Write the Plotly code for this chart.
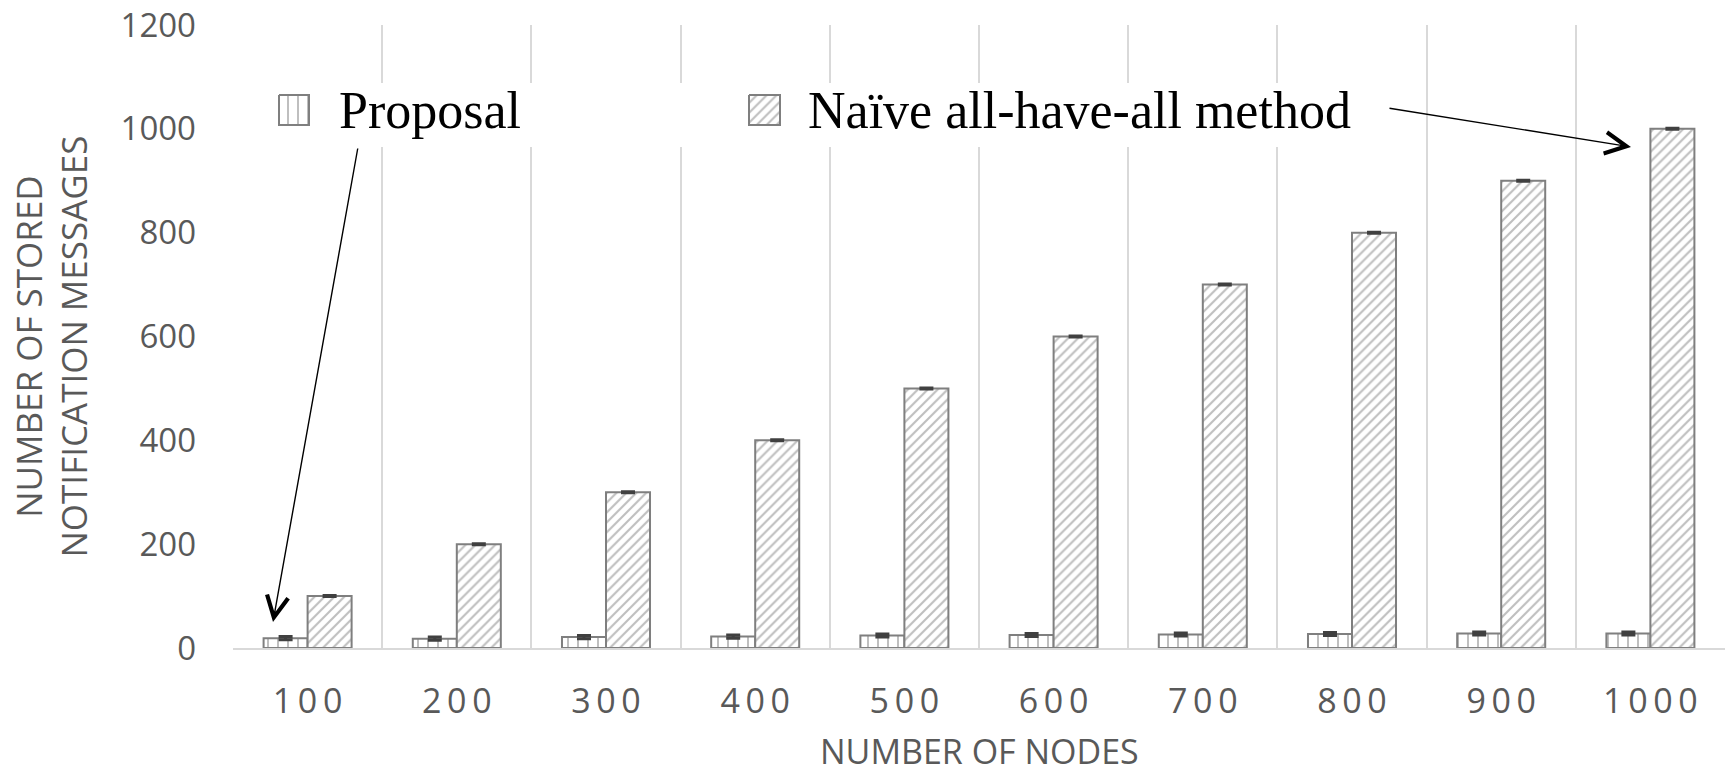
import plotly.graph_objects as go

# ---- data ----
nodes = ["100", "200", "300", "400", "500", "600", "700", "800", "900", "1000"]
proposal = [19, 18, 21, 22, 24, 25, 26, 27, 28, 28]
proposal_err = [3, 3, 3, 3, 3, 3, 3, 3, 3, 3]
naive = [100, 200, 300, 400, 500, 600, 700, 800, 900, 1000]
naive_err = [1, 1, 1, 1, 1, 1, 1, 1, 1, 1]
series_names = ["Proposal", "Naïve all-have-all method"]
y_ticks = [0, 200, 400, 600, 800, 1000, 1200]
x_title = "NUMBER OF NODES"
y_title = "NUMBER OF STORED<br>NOTIFICATION MESSAGES"

tick_text = ["\u2009".join(n) for n in nodes]

# geometry (page pixels; body margin removed below)
W, H = 1729, 775
PL, PR, PT, PB = 233, 1725, 25, 648      # plot area
L, T, R, B = PL, PT, W - PR, H - PB
YMAX = 1200

GRAY = "#7f7f7f"
TXT = "#595959"
GRID = "#d9d9d9"

def px_to_cat(px):
    return (px - PL) / ((PR - PL) / len(nodes)) - 0.5

def px_to_val(py):
    return (PB - py) / (PB - PT) * YMAX

fig = go.Figure()
fig.add_trace(go.Bar(
    x=nodes, y=proposal, name=series_names[0], showlegend=False,
    marker=dict(color="white", line=dict(color=GRAY, width=2),
                pattern=dict(shape="|", fgcolor=GRAY, bgcolor="white", size=10, solidity=0.2)),
    error_y=dict(type="data", array=proposal_err, color="#404040", thickness=3, width=7),
))
fig.add_trace(go.Bar(
    x=nodes, y=naive, name=series_names[1], showlegend=False,
    marker=dict(color="white", line=dict(color=GRAY, width=2),
                pattern=dict(shape="/", fgcolor=GRAY, bgcolor="white", size=7, solidity=0.3)),
    error_y=dict(type="data", array=naive_err, color="#404040", thickness=3, width=7),
))

# legend swatches on a pixel-mapped overlay axis
def swatch(x0, y0, w, h, shape, size, sol):
    fig.add_trace(go.Scatter(
        x=[x0, x0 + w, x0 + w, x0, x0], y=[y0, y0, y0 + h, y0 + h, y0],
        xaxis="x2", yaxis="y2", mode="lines", fill="toself",
        fillcolor="white", line=dict(color=GRAY, width=2),
        fillpattern=dict(shape=shape, fgcolor=GRAY, bgcolor="white", size=size, solidity=sol),
        showlegend=False, hoverinfo="skip"))

swatch(279, 95, 30, 30, "|", 10, 0.2)
swatch(749, 95, 31, 30, "/", 7, 0.3)

fig.update_layout(
    width=W, height=H,
    margin=dict(l=L, r=R, t=T, b=B, pad=0, autoexpand=False),
    paper_bgcolor="white", plot_bgcolor="white",
    font=dict(family="Open Sans", color=TXT, size=33),
    barmode="group", bargap=0.41, bargroupgap=0,
    xaxis=dict(type="category", tickson="boundaries", showgrid=True,
               gridcolor=GRID, gridwidth=2, showline=True, linecolor=GRID,
               linewidth=2, ticks="", tickvals=nodes, ticktext=tick_text,
               tickfont=dict(size=34, color=TXT), ticklabelstandoff=22,
               zeroline=False, range=[-0.5, len(nodes) - 0.5], automargin=False),
    yaxis=dict(range=[0, YMAX], tickvals=y_ticks, showgrid=False, showline=False,
               zeroline=False, ticks="", tickfont=dict(size=33, color=TXT),
               ticklabelstandoff=36, ticklabeloverflow="allow", automargin=False),
    xaxis2=dict(overlaying="x", range=[PL, PR], visible=False, fixedrange=True),
    yaxis2=dict(overlaying="y", range=[PB, PT], visible=False, fixedrange=True),
    showlegend=False,
)

# white band behind legend (covers gridlines)
fig.add_shape(type="rect", xref="x", yref="y",
              x0=px_to_cat(262), x1=px_to_cat(1380),
              y0=px_to_val(147), y1=px_to_val(83),
              fillcolor="white", line=dict(width=0), layer="between")

serif = dict(family="Liberation Serif", size=52, color="black")
fig.add_annotation(xref="x2", yref="y2", x=337, y=110, text=series_names[0],
                   showarrow=False, xanchor="left", yanchor="middle", font=serif)
fig.add_annotation(xref="x2", yref="y2", x=806, y=110, text=series_names[1],
                   showarrow=False, xanchor="left", yanchor="middle", font=serif)

# arrows
fig.add_annotation(xref="x2", yref="y2", axref="x2", ayref="y2",
                   x=273, y=622, ax=358, ay=147, text="", showarrow=True,
                   arrowhead=5, arrowsize=3, arrowwidth=1.4, arrowcolor="black")
fig.add_annotation(xref="x2", yref="y2", axref="x2", ayref="y2",
                   x=1631, y=147, ax=1388, ay=108, text="", showarrow=True,
                   arrowhead=5, arrowsize=3, arrowwidth=1.4, arrowcolor="black")

# axis titles
fig.add_annotation(xref="paper", yref="paper", x=0.5, y=0, yshift=-(751 - PB),
                   text=x_title, showarrow=False, xanchor="center", yanchor="middle",
                   font=dict(size=34, color=TXT))
fig.add_annotation(xref="paper", yref="paper", x=0, y=0.5, xshift=51 - PL, yshift=-10,
                   text=y_title, showarrow=False, xanchor="center", yanchor="middle",
                   textangle=-90, font=dict(size=35, color=TXT))

fig.write_html("out.html", config={"displayModeBar": False},
               post_script="document.body.style.margin='0';")
